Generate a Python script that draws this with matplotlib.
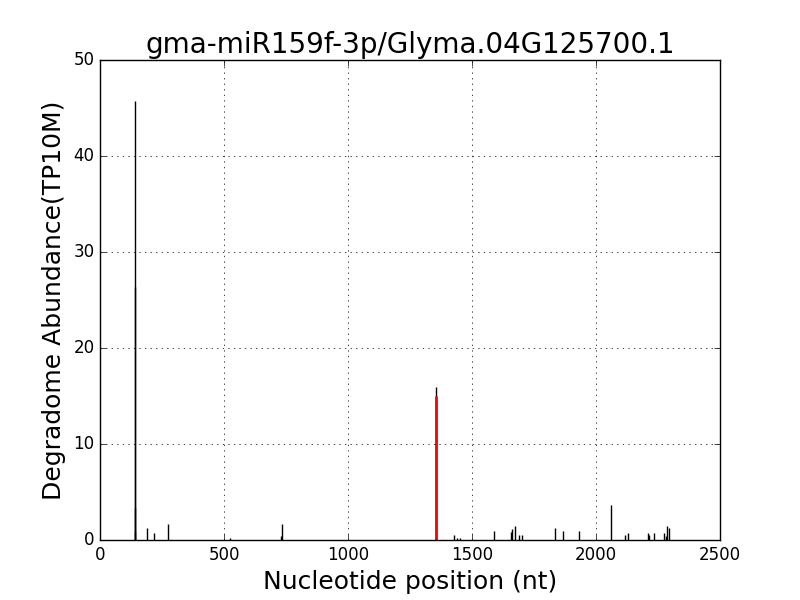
import matplotlib
matplotlib.use("Agg")
import matplotlib.pyplot as plt

# degradome reads per position
positions = [140, 141, 142, 143, 189, 219, 275, 524, 731, 732,
             1354, 1429, 1438, 1452, 1589, 1657, 1663, 1675, 1690, 1702,
             1836, 1868, 1933, 2062, 2117, 2130, 2210, 2215, 2235, 2276,
             2281, 2288, 2296]
abundance = [0.8, 3.3, 45.7, 26.4, 1.2, 0.7, 1.67, 0.17, 0.4, 1.67,
             15.9, 0.52, 0.17, 0.17, 0.94, 0.8, 1.1, 1.46, 0.52, 0.52,
             1.2, 0.94, 0.94, 3.65, 0.52, 0.7, 0.7, 0.52, 0.7, 0.7,
             0.4, 1.46, 1.2]

# predicted cleavage site
site_pos = [1355]
site_val = [15.0]

plt.style.use('classic')
fig = plt.figure(figsize=(8, 6), dpi=100)
fig.patch.set_facecolor('white')
ax = fig.add_subplot(111)

ax.vlines(positions, 0, abundance, colors='black', linewidth=1)
ax.vlines(site_pos, 0, site_val, colors='red', linewidth=2)

ax.set_xlim(0, 2500)
ax.set_ylim(0, 50)
ax.grid(True)
ax.set_title('gma-miR159f-3p/Glyma.04G125700.1', fontsize=20)
ax.set_xlabel('Nucleotide position (nt)', fontsize=18)
ax.set_ylabel('Degradome Abundance(TP10M)', fontsize=18)

plt.savefig('out.png', dpi=100, facecolor='white')
